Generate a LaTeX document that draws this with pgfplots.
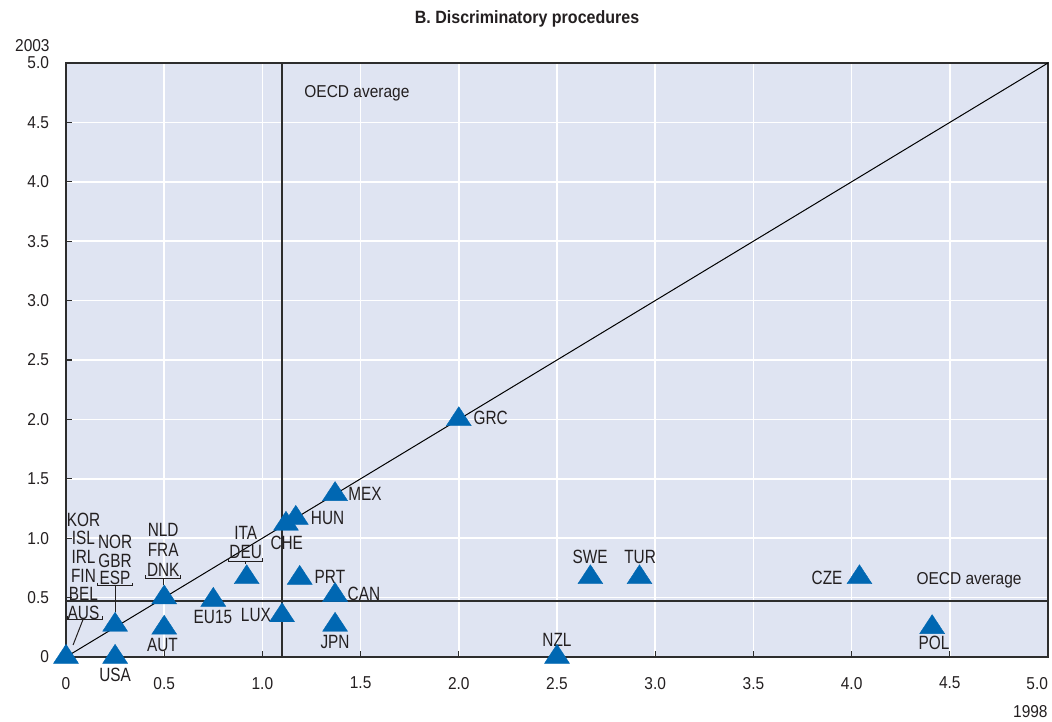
\documentclass[border=0pt]{standalone}
\usepackage{fontspec}
\setmainfont{Liberation Sans}[FakeStretch=0.9]
\newfontfamily\labfont{Liberation Sans}[FakeStretch=0.8]
\usepackage{pgfplots}
\pgfplotsset{compat=1.18}
\definecolor{bg}{RGB}{223,228,242}
\definecolor{mk}{RGB}{0,103,178}
\definecolor{ax}{RGB}{45,45,45}
\definecolor{tx}{RGB}{35,31,32}
\newcommand{\lf}{\labfont\fontsize{9.6}{11}\selectfont}
\begin{document}
\begin{tikzpicture}[x=1pt,y=1pt]
\useasboundingbox (-33,-32) rectangle (493,328.5);
\begin{axis}[at={(0,0)}, anchor=south west, scale only axis, width=491pt, height=297pt,
  xmin=0,xmax=5,ymin=0,ymax=5,
  axis background/.style={fill=bg},
  axis line style={ax, line width=1pt},
  xtick={0,0.5,1,1.5,2,2.5,3,3.5,4,4.5,5},
  ytick={0,0.5,1,1.5,2,2.5,3,3.5,4,4.5,5},
  xticklabels={0,0.5,1.0,1.5,2.0,2.5,3.0,3.5,4.0,4.5,\makebox[0pt][r]{5.0}},
  yticklabels={0,0.5,1.0,1.5,2.0,2.5,3.0,3.5,4.0,4.5,5.0},
  tick align=inside, xtick pos=bottom, ytick pos=left,
  major tick length=3pt,
  tick style={ax, line width=0.6pt},
  grid=major, major grid style={white, line width=0.8pt},
  ticklabel style={font=\fontsize{8.6}{10}\selectfont, text=tx},
  xticklabel style={yshift=-6.5pt},
  yticklabel style={xshift=-5pt},
  clip=false,
]
\addplot[black, line width=0.5pt] coordinates {(0,0) (5,5)};
\addplot[ax, line width=1pt] coordinates {(1.1,0) (1.1,5)};
\addplot[ax, line width=1pt] coordinates {(0,0.475) (5,0.475)};
\addplot[mk, only marks, mark=triangle*, mark size=7.2pt, mark options={fill=mk, draw=mk, line width=0.2pt, yscale=0.88}] coordinates {
 (0,0) (0.25,0) (0.25,0.27) (0.5,0.245) (0.5,0.5) (0.75,0.48) (0.92,0.67)
 (1.1,0.35) (1.12,1.12) (1.17,1.17) (1.19,0.665) (1.37,1.37) (1.37,0.52) (1.37,0.27)
 (2.0,2.0) (2.5,0) (2.67,0.67) (2.92,0.67) (4.04,0.67) (4.41,0.25)
};
% single labels
\node[font=\lf, text=tx] at (axis cs:2.162,2.012) {GRC};
\node[font=\lf, text=tx] at (axis cs:1.522,1.372) {MEX};
\node[font=\lf, text=tx] at (axis cs:1.332,1.170) {HUN};
\node[font=\lf, text=tx] at (axis cs:1.124,0.962) {CHE};
\node[font=\lf, text=tx] at (axis cs:1.344,0.676) {PRT};
\node[font=\lf, text=tx] at (axis cs:1.517,0.530) {CAN};
\node[font=\lf, text=tx] at (axis cs:1.370,0.126) {JPN};
\node[font=\lf, text=tx] at (axis cs:0.967,0.354) {LUX};
\node[font=\lf, text=tx] at (axis cs:0.748,0.337) {EU15};
\node[font=\lf, text=tx] at (axis cs:0.491,0.104) {AUT};
\node[font=\lf, text=tx] at (axis cs:0.25,-0.151) {USA};
\node[font=\lf, text=tx] at (axis cs:2.5,0.143) {NZL};
\node[font=\lf, text=tx] at (axis cs:2.668,0.844) {SWE};
\node[font=\lf, text=tx] at (axis cs:2.923,0.844) {TUR};
\node[font=\lf, text=tx] at (axis cs:3.875,0.665) {CZE};
\node[font=\lf, text=tx] at (axis cs:4.42,0.122) {POL};
% stack 1
\node[font=\lf, text=tx] at (axis cs:0.089,1.153) {KOR};
\node[font=\lf, text=tx] at (axis cs:0.089,1.002) {ISL};
\node[font=\lf, text=tx] at (axis cs:0.089,0.842) {IRL};
\node[font=\lf, text=tx] at (axis cs:0.089,0.682) {FIN};
\node[font=\lf, text=tx] at (axis cs:0.089,0.530) {BEL};
\node[font=\lf, text=tx] at (axis cs:0.089,0.370) {AUS};
\draw[tx, line width=0.5pt] (axis cs:0.009,0.342) -- (axis cs:0.009,0.317) -- (axis cs:0.185,0.317) -- (axis cs:0.185,0.342);
\draw[tx, line width=0.5pt] (axis cs:0.087,0.317) -- (axis cs:0.036,0.101);
% stack 2
\node[font=\lf, text=tx] at (axis cs:0.25,0.968) {NOR};
\node[font=\lf, text=tx] at (axis cs:0.25,0.808) {GBR};
\node[font=\lf, text=tx] at (axis cs:0.25,0.665) {ESP};
\draw[tx, line width=0.5pt] (axis cs:0.161,0.625) -- (axis cs:0.161,0.600) -- (axis cs:0.338,0.600) -- (axis cs:0.338,0.625);
\draw[tx, line width=0.5pt] (axis cs:0.25,0.600) -- (axis cs:0.25,0.379);
% stack 3
\node[font=\lf, text=tx] at (axis cs:0.495,1.069) {NLD};
\node[font=\lf, text=tx] at (axis cs:0.495,0.901) {FRA};
\node[font=\lf, text=tx] at (axis cs:0.495,0.732) {DNK};
\draw[tx, line width=0.5pt] (axis cs:0.406,0.687) -- (axis cs:0.406,0.662) -- (axis cs:0.582,0.662) -- (axis cs:0.582,0.687);
\draw[tx, line width=0.5pt] (axis cs:0.495,0.662) -- (axis cs:0.495,0.606);
% stack 4
\node[font=\lf, text=tx] at (axis cs:0.915,1.044) {ITA};
\node[font=\lf, text=tx] at (axis cs:0.915,0.886) {DEU};
\draw[tx, line width=0.5pt] (axis cs:0.826,0.833) -- (axis cs:0.826,0.808) -- (axis cs:1.001,0.808) -- (axis cs:1.001,0.833);
\draw[tx, line width=0.5pt] (axis cs:0.915,0.808) -- (axis cs:0.915,0.783);
% OECD labels
\node[font=\fontsize{8.6}{10}\selectfont, text=tx, anchor=west, inner sep=0] at (axis cs:1.212,4.747) {OECD average};
\node[font=\fontsize{8.6}{10}\selectfont, text=tx] at (axis cs:4.598,0.648) {OECD average};
% axis titles
\node[font=\fontsize{8.6}{10}\selectfont, text=tx, anchor=east, inner sep=0, xshift=-8pt, yshift=8.5pt] at (axis cs:0,5) {2003};
\node[font=\fontsize{8.6}{10}\selectfont, text=tx, anchor=east, inner sep=0, yshift=-27.5pt] at (axis cs:5,0) {1998};
\node[font=\bfseries\fontsize{8.9}{10}\selectfont, text=tx, yshift=22pt] at (rel axis cs:0.4695,1) {B. Discriminatory procedures};
\end{axis}
\end{tikzpicture}
\end{document}
